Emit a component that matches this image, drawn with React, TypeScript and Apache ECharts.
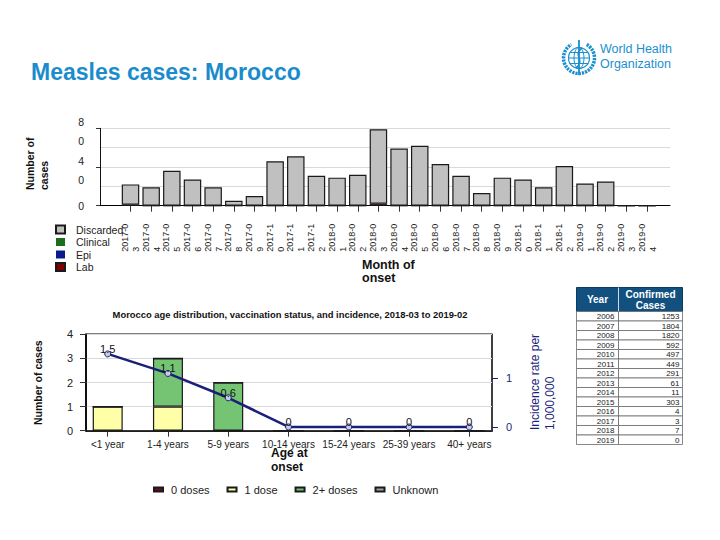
import React, { useEffect, useRef } from 'react';
import * as echarts from 'echarts';

const FONT = '"Liberation Sans", Arial, Helvetica, sans-serif';

// ---- Top chart: monthly cases ----
const months = ['2017-03', '2017-04', '2017-05', '2017-06', '2017-07', '2017-08', '2017-09', '2017-10', '2017-11', '2017-12', '2018-01', '2018-02', '2018-03', '2018-04', '2018-05', '2018-06', '2018-07', '2018-08', '2018-09', '2018-10', '2018-11', '2018-12', '2019-01', '2019-02', '2019-03', '2019-04'];
const discarded = [21, 19, 36, 27, 19, 5, 10, 46, 51, 31, 29, 32, 77, 59, 62, 43, 31, 13, 29, 27, 19, 41, 23, 25, 0, 0];
const clinical = [0, 0, 0, 0, 0, 0, 0, 0, 0, 0, 0, 0, 0, 0, 0, 0, 0, 0, 0, 0, 0, 0, 0, 0, 0, 0];
const epi = [0, 0, 0, 0, 0, 0, 0, 0, 0, 0, 0, 0, 0, 0, 0, 0, 0, 0, 0, 0, 0, 0, 0, 0, 0, 0];
const lab = [1, 0, 0, 0, 0, 0, 0, 0, 0, 0, 0, 0, 2, 0, 0, 0, 0, 0, 0, 0, 0, 0, 0, 0, 0, 0];
const monthCaseTicks = [0, 20, 40, 60, 80];

// ---- Bottom chart: age distribution ----
const ageGroups = ['<1 year', '1-4 years', '5-9 years', '10-14 years', '15-24 years', '25-39 years', '40+ years'];
const zeroDoses = [0, 0, 0, 0, 0, 0, 0];
const oneDose = [1, 1, 0, 0, 0, 0, 0];
const twoPlusDoses = [0, 2, 2, 0, 0, 0, 0];
const unknownDoses = [0, 0, 0, 0, 0, 0, 0];
const incidence = [1.5, 1.1, 0.6, 0, 0, 0, 0];
const incidenceTicks = [0, 1];

// ---- Table ----
const tableYears = ['2006', '2007', '2008', '2009', '2010', '2011', '2012', '2013', '2014', '2015', '2016', '2017', '2018', '2019'];
const tableCases = [1253, 1804, 1820, 592, 497, 449, 291, 61, 11, 303, 4, 3, 7, 0];

const WHO_BLUE = '#1a8fd0';
const NAVY = '#1b1f7a';
const INC_MIN = -0.076;
const INC_MAX = 1.903;

function buildTable(): any[] {
  const x0 = 576.5, x1 = 618.5, x2 = 682.5;
  const hTop = 287.5, hBot = 311.5, rowH = 9.5;
  const els: any[] = [];
  els.push({ type: 'rect', shape: { x: x0, y: hTop, width: x2 - x0, height: hBot - hTop }, style: { fill: '#12507f', stroke: '#0c3c60', lineWidth: 1 } });
  els.push({ type: 'line', shape: { x1: x1, y1: hTop, x2: x1, y2: hBot }, style: { stroke: '#ffffff', lineWidth: 0.8 } });
  els.push({ type: 'text', x: (x0 + x1) / 2, y: (hTop + hBot) / 2, style: { text: 'Year', fill: '#fff', font: `bold 10px ${FONT}`, align: 'center', verticalAlign: 'middle' } });
  els.push({ type: 'text', x: (x1 + x2) / 2, y: (hTop + hBot) / 2, style: { text: 'Confirmed\nCases', fill: '#fff', font: `bold 10px ${FONT}`, lineHeight: 11, align: 'center', verticalAlign: 'middle' } });
  tableYears.forEach((yr, i) => {
    const y = hBot + i * rowH;
    els.push({ type: 'rect', shape: { x: x0, y, width: x1 - x0, height: rowH }, style: { fill: '#fff', stroke: '#6a6a6a', lineWidth: 0.8 } });
    els.push({ type: 'rect', shape: { x: x1, y, width: x2 - x1, height: rowH }, style: { fill: '#fff', stroke: '#6a6a6a', lineWidth: 0.8 } });
    els.push({ type: 'text', x: x1 - 4, y: y + rowH / 2 + 0.5, style: { text: yr, fill: '#222', font: `8px ${FONT}`, align: 'right', verticalAlign: 'middle' } });
    els.push({ type: 'text', x: x2 - 3, y: y + rowH / 2 + 0.5, style: { text: String(tableCases[i]), fill: '#222', font: `8px ${FONT}`, align: 'right', verticalAlign: 'middle' } });
  });
  return els;
}

function buildLogo(): any[] {
  const cx = 579, cy = 58;
  const s = { fill: 'none', stroke: WHO_BLUE, lineWidth: 1 };
  return [
    { type: 'arc', shape: { cx, cy, r: 15.5, startAngle: -Math.PI / 3, endAngle: (4 * Math.PI) / 3, clockwise: true }, style: { fill: 'none', stroke: WHO_BLUE, lineWidth: 3.5, lineDash: [2.2, 1] } },
    { type: 'circle', shape: { cx, cy, r: 10.5 }, style: { ...s, lineWidth: 1.2 } },
    { type: 'ellipse', shape: { cx, cy, rx: 5, ry: 10.5 }, style: s },
    { type: 'line', shape: { x1: cx - 10.5, y1: cy, x2: cx + 10.5, y2: cy }, style: s },
    { type: 'line', shape: { x1: cx - 9, y1: cy - 5.5, x2: cx + 9, y2: cy - 5.5 }, style: s },
    { type: 'line', shape: { x1: cx - 9, y1: cy + 5.5, x2: cx + 9, y2: cy + 5.5 }, style: s },
    { type: 'line', shape: { x1: cx, y1: cy - 18, x2: cx, y2: cy + 17 }, style: { ...s, lineWidth: 1.8 } },
    { type: 'bezierCurve', shape: { x1: cx - 3, y1: cy + 10, x2: cx + 3, y2: cy - 10, cpx1: cx + 7, cpy1: cy + 2, cpx2: cx - 7, cpy2: cy - 3 }, style: { ...s, lineWidth: 1.6 } },
    { type: 'text', x: 600, y: 49, style: { text: 'World Health', fill: WHO_BLUE, font: `12.5px ${FONT}`, align: 'left', verticalAlign: 'middle' } },
    { type: 'text', x: 600, y: 63.5, style: { text: 'Organization', fill: WHO_BLUE, font: `12.5px ${FONT}`, align: 'left', verticalAlign: 'middle' } },
  ];
}

function buildOption(): any {
  const barBorder = '#1a1a1a';
  const hiddenValueX = (gridIndex: number, lineWidth: number) => ({
    type: 'value', gridIndex, min: 0, max: 1,
    axisLine: { show: true, onZero: false, lineStyle: { color: '#000', width: lineWidth } },
    axisTick: { show: false }, axisLabel: { show: false }, splitLine: { show: false },
  });

  return {
    animation: false,
    backgroundColor: '#ffffff',
    textStyle: { fontFamily: FONT },
    grid: [
      // 0: top frame
      { left: 100, right: 50, top: 128.3, bottom: 334.3, containLabel: false },
      // 1: top bars
      { left: 120.17, right: 62.67, top: 128.3, bottom: 334.3, containLabel: false },
      // 2: bottom frame
      { left: 86, right: 228, top: 334.3, bottom: 109.3, containLabel: false, show: true, borderColor: '#000', borderWidth: 1.5, backgroundColor: 'transparent' },
      // 3: bottom bars / line
      { left: 77.57, right: 220.57, top: 334.3, bottom: 109.3, containLabel: false },
    ],
    legend: [
      {
        data: ['Discarded', 'Clinical', 'Epi', 'Lab'],
        orient: 'vertical',
        left: 50,
        top: 219,
        itemWidth: 9,
        itemHeight: 8,
        itemGap: 1.5,
        icon: 'rect',
        selectedMode: false,
        textStyle: { fontSize: 10.5, lineHeight: 11, color: '#222', fontFamily: FONT, padding: [0, 0, 0, 6] },
      },
      {
        data: ['0 doses', '1 dose', '2+ doses', 'Unknown'],
        orient: 'horizontal',
        left: 148,
        top: 479,
        itemWidth: 9,
        itemHeight: 4,
        itemGap: 17,
        icon: 'rect',
        selectedMode: false,
        textStyle: { fontSize: 11, color: '#222', fontFamily: FONT, padding: [0, 0, 0, 3] },
      },
    ],
    xAxis: [
      hiddenValueX(0, 1),
      {
        type: 'category',
        gridIndex: 1,
        data: months,
        boundaryGap: true,
        axisLine: { show: false },
        axisTick: { show: true, alignWithLabel: true, length: 6, lineStyle: { color: '#333' } },
        splitLine: { show: false },
        axisLabel: {
          interval: 0,
          rotate: 90,
          margin: 17,
          hideOverlap: false,
          formatter: (s: string) => `{a|${s.slice(0, 6)}}\n{a|${s.slice(6)}}`,
          rich: { a: { fontSize: 9, lineHeight: 11, width: 29, align: 'left', color: '#222', fontFamily: FONT } },
        },
      },
      hiddenValueX(2, 1.5),
      {
        type: 'category',
        gridIndex: 3,
        data: ageGroups,
        boundaryGap: true,
        axisLine: { show: false },
        axisTick: { show: true, alignWithLabel: true, length: 6, lineStyle: { color: '#333' } },
        splitLine: { show: false },
        axisLabel: { interval: 0, margin: 9, fontSize: 10, color: '#222', fontFamily: FONT, hideOverlap: false },
      },
    ],
    yAxis: [
      {
        type: 'value',
        gridIndex: 0,
        min: 0,
        max: 80,
        interval: 20,
        axisLine: { show: true, onZero: false, lineStyle: { color: '#111', width: 1 } },
        axisTick: { show: true, length: 4, lineStyle: { color: '#333' } },
        splitLine: { show: true, lineStyle: { color: '#d9d9d9', width: 1 } },
        axisLabel: {
          customValues: monthCaseTicks,
          margin: 16,
          showMinLabel: true,
          showMaxLabel: true,
          hideOverlap: false,
          formatter: (v: number) => {
            const d = String(v).split('');
            return d.map((c, i) => (i === 0 ? `{a|${c}}` : `{b|${c}}`)).join('\n');
          },
          rich: {
            a: { fontSize: 10.5, lineHeight: 26, color: '#222', fontFamily: FONT },
            b: { fontSize: 10.5, lineHeight: 12, color: '#222', fontFamily: FONT },
          },
        },
      },
      { type: 'value', gridIndex: 1, min: 0, max: 80, interval: 20, show: false },
      {
        type: 'value',
        gridIndex: 2,
        min: 0,
        max: 4,
        interval: 1,
        axisLine: { show: true, onZero: false, lineStyle: { color: '#000', width: 1.5 } },
        axisTick: { show: true, length: 6, lineStyle: { color: '#333' } },
        splitLine: { show: true, lineStyle: { color: '#d9d9d9', width: 1 } },
        axisLabel: { margin: 13, fontSize: 11, color: '#222', fontFamily: FONT, showMinLabel: true, showMaxLabel: true, hideOverlap: false },
      },
      {
        type: 'value',
        gridIndex: 2,
        position: 'right',
        min: INC_MIN,
        max: INC_MAX,
        axisLine: { show: false, onZero: false },
        splitLine: { show: false },
        axisTick: { show: true, customValues: incidenceTicks, length: 6, lineStyle: { color: NAVY } },
        axisLabel: { customValues: incidenceTicks, margin: 14, fontSize: 11, color: NAVY, fontFamily: FONT },
      },
      { type: 'value', gridIndex: 3, min: 0, max: 4, interval: 1, show: false },
      { type: 'value', gridIndex: 3, position: 'right', min: INC_MIN, max: INC_MAX, show: false },
    ],
    series: [
      { name: 'Lab', type: 'bar', xAxisIndex: 1, yAxisIndex: 1, stack: 'month', barWidth: 17.5, data: lab, itemStyle: { color: '#800000', borderColor: barBorder, borderWidth: 1 } },
      { name: 'Epi', type: 'bar', xAxisIndex: 1, yAxisIndex: 1, stack: 'month', barWidth: 17.5, data: epi, itemStyle: { color: '#0b1a8c', borderColor: barBorder, borderWidth: 0 } },
      { name: 'Clinical', type: 'bar', xAxisIndex: 1, yAxisIndex: 1, stack: 'month', barWidth: 17.5, data: clinical, itemStyle: { color: '#1c6e1c', borderColor: barBorder, borderWidth: 0 } },
      { name: 'Discarded', type: 'bar', xAxisIndex: 1, yAxisIndex: 1, stack: 'month', barWidth: 17.5, data: discarded, itemStyle: { color: '#c0c0c0', borderColor: barBorder, borderWidth: 1.2 } },

      { name: '0 doses', type: 'bar', xAxisIndex: 3, yAxisIndex: 4, stack: 'age', barWidth: 30, data: zeroDoses, itemStyle: { color: '#6b0f1a', borderColor: barBorder, borderWidth: 1.2 } },
      { name: '1 dose', type: 'bar', xAxisIndex: 3, yAxisIndex: 4, stack: 'age', barWidth: 30, data: oneDose, itemStyle: { color: '#ffffa8', borderColor: barBorder, borderWidth: 1.2 } },
      { name: '2+ doses', type: 'bar', xAxisIndex: 3, yAxisIndex: 4, stack: 'age', barWidth: 30, data: twoPlusDoses, itemStyle: { color: '#74c474', borderColor: barBorder, borderWidth: 1.2 } },
      { name: 'Unknown', type: 'bar', xAxisIndex: 3, yAxisIndex: 4, stack: 'age', barWidth: 30, data: unknownDoses, itemStyle: { color: '#a3a3a3', borderColor: barBorder, borderWidth: 1.2 } },
      {
        name: 'Incidence',
        type: 'line',
        xAxisIndex: 3,
        yAxisIndex: 5,
        data: incidence,
        symbol: 'circle',
        symbolSize: 6,
        lineStyle: { color: NAVY, width: 2.5 },
        itemStyle: { color: '#c9cde3', borderColor: NAVY, borderWidth: 1 },
        label: {
          show: true,
          position: 'top',
          distance: -4,
          fontSize: 11,
          color: '#111',
          fontFamily: FONT,
        },
        labelLayout: { hideOverlap: false },
        z: 5,
      },
    ],
    graphic: [
      { type: 'text', x: 31, y: 72, style: { text: 'Measles cases: Morocco', fill: '#1a8ccc', font: `bold 23px ${FONT}`, align: 'left', verticalAlign: 'middle' } },
      { type: 'text', x: 37, y: 190, rotation: Math.PI / 2, style: { text: 'Number of\ncases', fill: '#111', font: `bold 10.5px ${FONT}`, lineHeight: 14, align: 'left', verticalAlign: 'middle' } },
      { type: 'text', x: 362, y: 271.5, style: { text: 'Month of\nonset', fill: '#111', font: `bold 12.5px ${FONT}`, lineHeight: 13, align: 'left', verticalAlign: 'middle' } },
      { type: 'text', x: 290, y: 314, style: { text: 'Morocco age distribution, vaccination status, and incidence, 2018-03 to 2019-02', fill: '#111', font: `bold 9.4px ${FONT}`, align: 'center', verticalAlign: 'middle' } },
      { type: 'text', x: 38, y: 425, rotation: Math.PI / 2, style: { text: 'Number of cases', fill: '#111', font: `bold 10.5px ${FONT}`, align: 'left', verticalAlign: 'middle' } },
      { type: 'text', x: 271, y: 459.5, style: { text: 'Age at\nonset', fill: '#111', font: `bold 12px ${FONT}`, lineHeight: 14, align: 'left', verticalAlign: 'middle' } },
      { type: 'text', x: 542.5, y: 430, rotation: Math.PI / 2, style: { text: 'Incidence rate per\n1,000,000', fill: NAVY, font: `12px ${FONT}`, lineHeight: 15, align: 'left', verticalAlign: 'middle' } },
      ...buildTable(),
      ...buildLogo(),
    ],
  };
}

export default function App() {
  const ref = useRef<HTMLDivElement>(null);
  useEffect(() => {
    document.body.style.margin = '0';
    if (!ref.current) return;
    const chart = echarts.init(ref.current, null, { renderer: 'svg', width: 720, height: 540 });
    chart.setOption(buildOption());
    return () => chart.dispose();
  }, []);
  return <div ref={ref} style={{ width: 720, height: 540, position: 'absolute', left: 0, top: 0, background: '#fff' }} />;
}
